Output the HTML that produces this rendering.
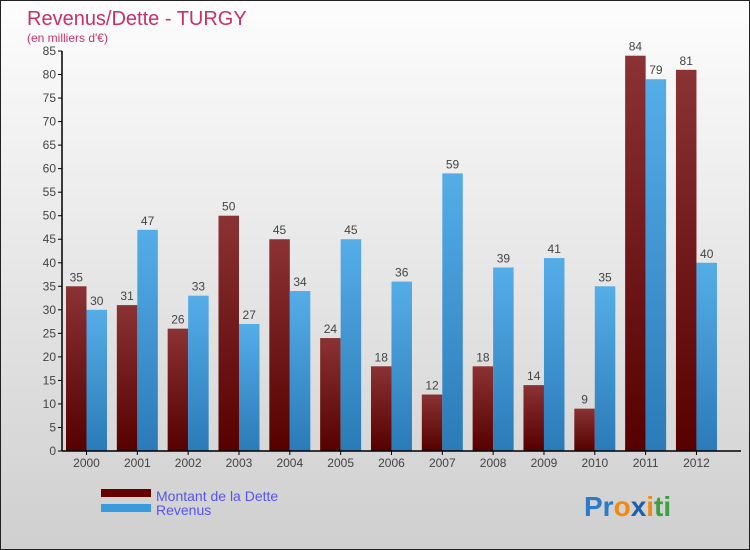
<!DOCTYPE html>
<html><head><meta charset="utf-8"><style>
body{margin:0}
#wrap{position:relative;width:750px;height:550px;box-sizing:border-box;border:1px solid #222;background:linear-gradient(#fdfdfd,#cfcfcf);font-family:"Liberation Sans",sans-serif;overflow:hidden}
svg text{font-family:"Liberation Sans",sans-serif}
</style></head><body>
<div id="wrap">
<svg id="chart" width="750" height="550">
<defs>
<linearGradient id="gd" x1="0" y1="0" x2="0" y2="1"><stop offset="0" stop-color="#8a3234"/><stop offset="1" stop-color="#560000"/></linearGradient>
<linearGradient id="gr" x1="0" y1="0" x2="0" y2="1"><stop offset="0" stop-color="#55ade8"/><stop offset="1" stop-color="#2a7bb8"/></linearGradient>
</defs>
<text x="26" y="24" font-size="20" fill="#c8306a">Revenus/Dette - TURGY</text>
<text x="26" y="41" font-size="12" fill="#c8306a">(en milliers d'€)</text>
<g id="plot"></g>
<rect x="100" y="488" width="50" height="8" fill="#660000"/>
<rect x="100" y="503" width="50" height="8" fill="#3a9ade"/>
<text x="155" y="500" font-size="14" fill="#5555ee">Montant de la Dette</text>
<text x="155" y="514" font-size="14" fill="#5555ee">Revenus</text>
<text x="583" y="515" font-size="28" font-weight="bold"><tspan fill="#2a7bc8">Pr</tspan><tspan fill="#f08a10">o</tspan><tspan fill="#1a5fb0">x</tspan><tspan fill="#f08a10">i</tspan><tspan fill="#3aa040">ti</tspan></text>
</svg>
</div>
<script>
const years=["2000","2001","2002","2003","2004","2005","2006","2007","2008","2009","2010","2011","2012"];
const dette=[35,31,26,50,45,24,18,12,18,14,9,84,81];
const revenus=[30,47,33,27,34,45,36,59,39,41,35,79,40];
const yTicks=[0,5,10,15,20,25,30,35,40,45,50,55,60,65,70,75,80,85];
const NS="http://www.w3.org/2000/svg";
const g=document.getElementById('plot');
const y0=450,yTop=50,yMax=85;
function yS(v){return y0-(v/yMax)*(y0-yTop);}
function xS(i){return 65+i*50.83;}
const bw=20.5;
function mk(t,a){const e=document.createElementNS(NS,t);for(const k in a)e.setAttribute(k,a[k]);g.appendChild(e);return e;}
yTicks.forEach(v=>{
 const l=mk('line',{x1:57,x2:61,y1:yS(v),y2:yS(v),stroke:'#000'});
 
 
 const t=mk('text',{x:55,y:yS(v)+4,'font-size':12,fill:'#444','text-anchor':'end'});
 t.textContent=v;
 
 
});
years.forEach((yr,i)=>{
 const x=xS(i);
 const d=mk('rect',{x:x,y:yS(dette[i]),width:bw,height:y0-yS(dette[i]),fill:'url(#gd)'});
 
 
 const r=mk('rect',{x:x+bw,y:yS(revenus[i]),width:bw,height:y0-yS(revenus[i]),fill:'url(#gr)'});
 
 
 const dl=mk('text',{x:x+bw/2,y:yS(dette[i])-5,'font-size':12,fill:'#444','text-anchor':'middle'});
 dl.textContent=dette[i];
 
 
 const rl=mk('text',{x:x+bw*1.5,y:yS(revenus[i])-5,'font-size':12,fill:'#444','text-anchor':'middle'});
 rl.textContent=revenus[i];
 
 
 const tk=mk('line',{x1:x+bw,x2:x+bw,y1:y0,y2:y0+4,stroke:'#000'});
 
 
 const xl=mk('text',{x:x+bw,y:466,'font-size':12,fill:'#444','text-anchor':'middle'});
 xl.textContent=yr;
 
 
});
const ya=mk('line',{x1:61,x2:61,y1:yTop,y2:y0,stroke:'#000','stroke-width':1.5});


const xa=mk('line',{x1:61,x2:740,y1:y0,y2:y0,stroke:'#000','stroke-width':1.5});


</script>
</body></html>
